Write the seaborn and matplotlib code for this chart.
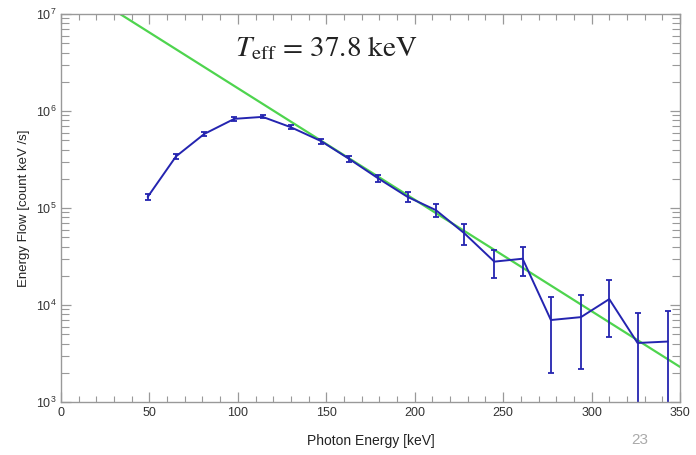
import numpy as np
import pandas as pd
import matplotlib
matplotlib.use("Agg")
import matplotlib.pyplot as plt
import matplotlib.ticker as mticker
import seaborn as sns

# ---- data ----
energy = [49, 65, 81, 98, 114, 130, 147, 163, 179, 196,
          212, 228, 245, 261, 277, 294, 310, 326, 343]
flow = [1.30e5, 3.40e5, 5.80e5, 8.30e5, 8.70e5, 6.80e5, 4.90e5, 3.20e5, 2.04e5, 1.30e5,
        9.50e4, 5.50e4, 2.80e4, 3.00e4, 7.00e3, 7.50e3, 1.15e4, 4.06e3, 4.20e3]
flow_err = [1.0e4, 2.2e4, 2.8e4, 3.2e4, 3.2e4, 3.2e4, 2.8e4, 2.2e4, 1.7e4, 1.6e4,
            1.5e4, 1.3e4, 9.0e3, 1.0e4, 5.0e3, 5.3e3, 6.8e3, 4.2e3, 4.4e3]
fit_energy = [33.4, 350.0]
fit_flow = [1.0e7, 2.3e3]
x_ticks = [0, 50, 100, 150, 200, 250, 300, 350]
y_ticks = [1e3, 1e4, 1e5, 1e6, 1e7]
annotation = r"$T_{\mathrm{eff}}$ = 37.8 keV"
page_number = "23"

sns.set_theme(style="ticks")
plt.rcParams["font.family"] = ["Liberation Sans", "DejaVu Sans"]
plt.rcParams["mathtext.fontset"] = "stix"

df = pd.DataFrame({"energy": energy, "flow": flow})
fit_df = pd.DataFrame({"energy": fit_energy, "flow": fit_flow})

fig = plt.figure(figsize=(6.96, 4.55), dpi=100)
ax = fig.add_axes([61 / 696, 1 - 402 / 455, (680 - 61) / 696, (402 - 14) / 455])

blue = "#2424b0"
green = "#4ed44e"

sns.lineplot(data=fit_df, x="energy", y="flow", ax=ax, color=green, linewidth=1.6)
sns.lineplot(data=df, x="energy", y="flow", ax=ax, color=blue, linewidth=1.4)
ax.errorbar(energy, flow, yerr=flow_err, fmt="none", ecolor=blue,
            elinewidth=1.3, capsize=2.5, capthick=1.3)

ax.set_yscale("log")
ax.set_xlim(0, 350)
ax.set_ylim(1e3, 1e7)
ax.set_xticks(x_ticks)
ax.xaxis.set_minor_locator(mticker.MultipleLocator(10))
ax.set_yticks(y_ticks)
ax.yaxis.set_minor_locator(mticker.LogLocator(base=10, subs=np.arange(2, 10)))
ax.yaxis.set_minor_formatter(mticker.NullFormatter())
ax.yaxis.set_major_formatter(mticker.FuncFormatter(
    lambda v, p: r"$\mathregular{10^{%d}}$" % int(round(np.log10(v)))))

for s in ax.spines.values():
    s.set_color("#999999")
    s.set_linewidth(1.0)
    s.set_visible(True)
ax.tick_params(which="both", direction="in", top=True, right=True,
               colors="#999999", labelcolor="#333333", labelsize=9)
ax.tick_params(which="major", length=7, width=0.9)
ax.tick_params(which="minor", length=4, width=0.8)
ax.tick_params(axis="y", which="minor", length=6)

ax.set_xlabel("Photon Energy [keV]", fontsize=10, color="#222222", labelpad=11)
ax.set_ylabel("Energy Flow [count keV /s]", fontsize=9.5, color="#222222", labelpad=4)

ax.text(235 / 696, 1 - 56 / 455, annotation, transform=fig.transFigure,
        fontsize=21, family="STIXGeneral", color="#222222", va="baseline", ha="left")
fig.text(640 / 696, 1 - 444 / 455, page_number, fontsize=11, color="#aaaaaa",
         ha="center", va="baseline")

fig.savefig("out.png", dpi=100)
